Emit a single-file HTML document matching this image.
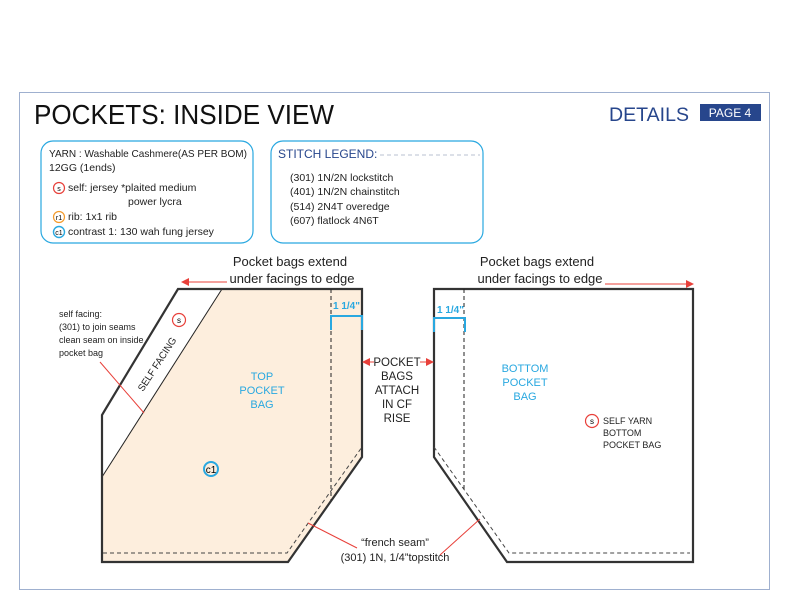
<!DOCTYPE html>
<html><head><meta charset="utf-8"><style>
html,body{margin:0;padding:0;background:#fff}
svg{display:block}
text{font-family:"Liberation Sans",sans-serif}
</style></head><body>
<svg width="793" height="612" viewBox="0 0 793 612" xmlns="http://www.w3.org/2000/svg">
<defs>
<marker id="ar" markerWidth="8" markerHeight="8" refX="7" refY="4" orient="auto" markerUnits="userSpaceOnUse"><path d="M0,0 L8,4 L0,8 z" fill="#e8403a"/></marker>
</defs>
<rect x="19.5" y="92.5" width="750" height="497" fill="none" stroke="#9fb0cf" stroke-width="1"/>
<text x="34" y="124" font-size="28" fill="#111" textLength="300" lengthAdjust="spacingAndGlyphs">POCKETS: INSIDE VIEW</text>
<text x="609" y="121" font-size="19" fill="#27468c" textLength="80" lengthAdjust="spacingAndGlyphs">DETAILS</text>
<rect x="700" y="104" width="61" height="17" fill="#27468c"/>
<text x="730" y="117" font-size="12" fill="#fff" text-anchor="middle">PAGE 4</text>

<rect x="41" y="141" width="212" height="102" rx="12" fill="none" stroke="#29a8e0" stroke-width="1.2"/>
<g font-size="10.5" fill="#222">
<text x="49" y="157" textLength="198" lengthAdjust="spacingAndGlyphs">YARN : Washable Cashmere(AS PER BOM)</text>
<text x="49" y="171">12GG  (1ends)</text>
<text x="68" y="191">self:  jersey *plaited medium</text>
<text x="128" y="205">power lycra</text>
<text x="68" y="220">rib: 1x1 rib</text>
<text x="68" y="235">contrast 1: 130 wah fung jersey</text>
</g>
<circle cx="59" cy="188" r="5.5" fill="none" stroke="#e8403a" stroke-width="1.2"/><text x="59" y="191" font-size="7" text-anchor="middle">s</text>
<circle cx="59" cy="217" r="5.5" fill="none" stroke="#f39a2b" stroke-width="1.2"/><text x="59" y="220" font-size="7" text-anchor="middle">r1</text>
<circle cx="59" cy="232" r="5.5" fill="none" stroke="#29a8e0" stroke-width="1.4"/><text x="59" y="235" font-size="7" text-anchor="middle">c1</text>

<rect x="271" y="141" width="212" height="102" rx="12" fill="none" stroke="#29a8e0" stroke-width="1.2"/>
<text x="278" y="158" font-size="12" fill="#27468c">STITCH LEGEND:</text>
<line x1="380" y1="155" x2="480" y2="155" stroke="#b8c0d0" stroke-dasharray="4,3"/>
<g font-size="10.5" fill="#222">
<text x="290" y="181">(301) 1N/2N lockstitch</text>
<text x="290" y="195">(401) 1N/2N chainstitch</text>
<text x="290" y="210">(514) 2N4T overedge</text>
<text x="290" y="224">(607) flatlock 4N6T</text>
</g>

<!-- left shape -->
<polygon points="222,289 362,289 362,457 288,562 102,562 102,477" fill="#fdeedd"/>
<line x1="222" y1="289" x2="102" y2="477" stroke="#222" stroke-width="1"/>
<polygon points="178,289 362,289 362,457 288,562 102,562 102,415 105,410" fill="none" stroke="#333" stroke-width="2.2" stroke-linejoin="miter"/>
<line x1="331" y1="289" x2="331" y2="500" stroke="#222" stroke-dasharray="4,3"/>
<polyline points="103,553 287,553 362,447" fill="none" stroke="#444" stroke-dasharray="4,3"/>
<polyline points="331,330 331,316 362,316 362,330" fill="none" stroke="#29a8e0" stroke-width="2"/>
<text x="333" y="309" font-size="10" font-weight="bold" fill="#29a8e0">1 1/4"</text>
<text x="0" y="0" font-size="10" fill="#222" transform="translate(143,392) rotate(-57)" textLength="62" lengthAdjust="spacingAndGlyphs">SELF FACING</text>
<circle cx="179" cy="320" r="6.5" fill="none" stroke="#e8403a" stroke-width="1.2"/><text x="179" y="323" font-size="8" text-anchor="middle">s</text>
<circle cx="211" cy="469" r="7" fill="none" stroke="#29a8e0" stroke-width="2"/><text x="211" y="473" font-size="10" text-anchor="middle">c1</text>
<g font-size="11" fill="#29a8e0" text-anchor="middle"><text x="262" y="380">TOP</text><text x="262" y="394">POCKET</text><text x="262" y="408">BAG</text></g>
<g font-size="9" fill="#222"><text x="59" y="317">self facing:</text><text x="59" y="330">(301) to join seams</text><text x="59" y="343">clean seam on inside</text><text x="59" y="356">pocket bag</text></g>
<line x1="100" y1="362" x2="144" y2="413" stroke="#e8403a"/>
<line x1="308" y1="523" x2="357" y2="548" stroke="#e8403a"/>

<!-- right shape -->
<polygon points="434,289 693,289 693,562 507,562 434,457" fill="none" stroke="#333" stroke-width="2.2"/>
<line x1="464" y1="289" x2="464" y2="490" stroke="#222" stroke-dasharray="4,3"/>
<polyline points="434,447 509,553 690,553" fill="none" stroke="#444" stroke-dasharray="4,3"/>
<polyline points="434,332 434,318 465,318 465,332" fill="none" stroke="#29a8e0" stroke-width="2"/>
<text x="437" y="313" font-size="10" font-weight="bold" fill="#29a8e0">1 1/4"</text>
<g font-size="11" fill="#29a8e0" text-anchor="middle"><text x="525" y="372">BOTTOM</text><text x="525" y="386">POCKET</text><text x="525" y="400">BAG</text></g>
<circle cx="592" cy="421" r="6.5" fill="none" stroke="#e8403a" stroke-width="1.2"/><text x="592" y="424" font-size="8" text-anchor="middle">s</text>
<g font-size="9" fill="#222"><text x="603" y="424">SELF YARN</text><text x="603" y="436">BOTTOM</text><text x="603" y="448">POCKET BAG</text></g>
<line x1="480" y1="519" x2="440" y2="555" stroke="#e8403a"/>

<!-- top labels -->
<g font-size="13" fill="#222" text-anchor="middle">
<text x="290" y="266">Pocket bags extend</text><text x="292" y="283">under facings to edge</text>
<text x="537" y="266">Pocket bags extend</text><text x="540" y="283">under facings to edge</text>
</g>
<line x1="227" y1="282" x2="182" y2="282" stroke="#e8403a" marker-end="url(#ar)"/>
<line x1="605" y1="284" x2="693" y2="284" stroke="#e8403a" marker-end="url(#ar)"/>

<g font-size="11.5" fill="#222" text-anchor="middle">
<text x="397" y="366">POCKET</text><text x="397" y="380">BAGS</text><text x="397" y="394">ATTACH</text><text x="397" y="408">IN CF</text><text x="397" y="422">RISE</text>
</g>
<line x1="374" y1="362" x2="363" y2="362" stroke="#e8403a" marker-end="url(#ar)"/>
<line x1="420" y1="362" x2="433" y2="362" stroke="#e8403a" marker-end="url(#ar)"/>

<g font-size="11" fill="#222" text-anchor="middle">
<text x="395" y="546">“french seam”</text><text x="395" y="561">(301) 1N, 1/4”topstitch</text>
</g>
</svg>
</body></html>
